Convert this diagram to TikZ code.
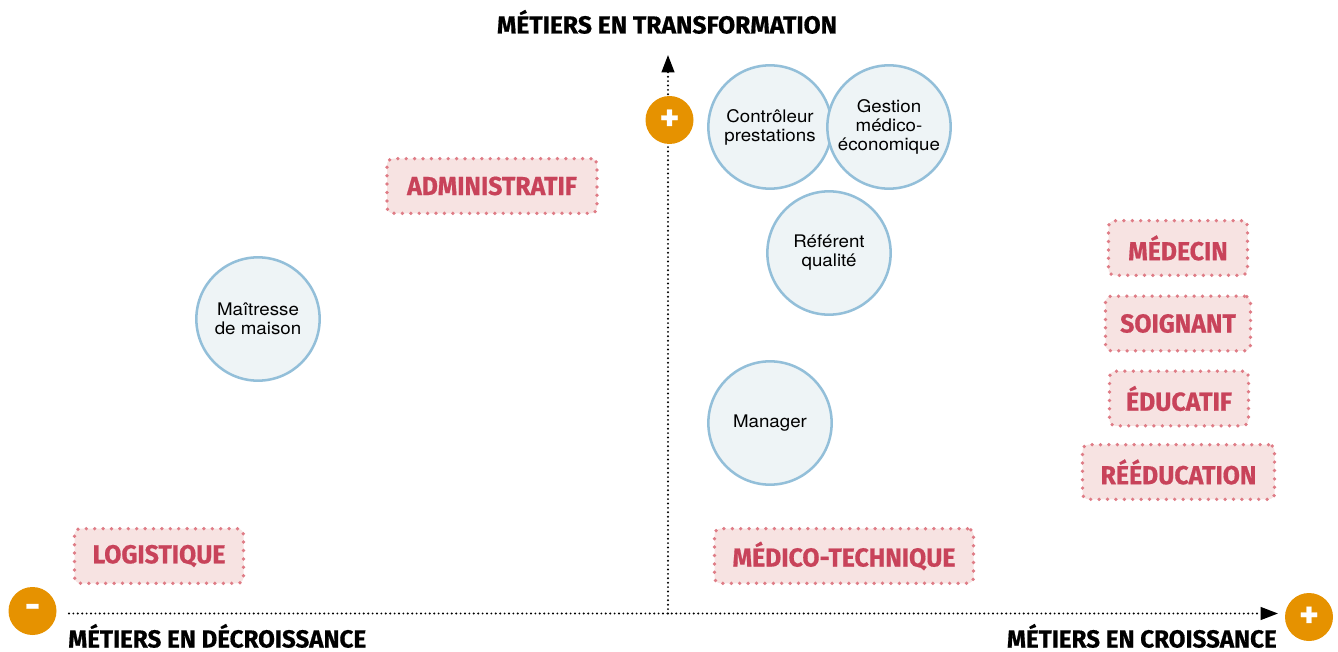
\documentclass[tikz,border=0pt]{standalone}
\usepackage{fontspec}
\usetikzlibrary{arrows.meta}
\newfontfamily\titlefont[FakeBold=0.6]{Fira Sans}
\newfontfamily\pinkfont[FakeBold=0.6,FakeStretch=0.955]{Fira Sans}
\newfontfamily\bottomfont[FakeBold=0.6,FakeStretch=0.98]{Fira Sans}
\newfontfamily\bodyfont[FakeStretch=1.08]{TeX Gyre Heros}
\definecolor{orangec}{HTML}{E69200}
\definecolor{bubblefill}{HTML}{EEF4F6}
\definecolor{bubbleline}{HTML}{93BFD9}
\definecolor{pinkfill}{HTML}{F7E3E2}
\definecolor{pinkdot}{HTML}{DF7C86}
\definecolor{pinktext}{HTML}{C8435A}
\tikzset{
  bubble/.style={circle, draw=bubbleline, fill=bubblefill, line width=1.9pt,
    minimum size=92.5pt, inner sep=0pt, align=center,
    font=\bodyfont\fontsize{13}{14.3}\selectfont},
  pinkbox/.style={rectangle, rounded corners=4.5pt, fill=pinkfill, draw=pinkdot,
    line width=2.8pt, line cap=round, dash pattern=on 0pt off 6.3pt,
    minimum height=41pt, inner sep=0pt, text=pinktext,
    font=\pinkfont\bfseries\fontsize{19.5}{20}\selectfont},
  axisline/.style={line width=1.6pt, line cap=round, dash pattern=on 0pt off 3.3pt,
    -{Triangle[length=13pt,width=9.5pt]}},
  signdot/.style={circle, fill=orangec, minimum size=36pt, inner sep=0pt,
    text=white, font=\titlefont\bfseries\fontsize{28}{28}\selectfont},
  axislabel/.style={font=\titlefont\bfseries\fontsize{18.5}{20}\selectfont, inner sep=0pt},
  bottomlabel/.style={font=\bottomfont\bfseries\fontsize{18.5}{20}\selectfont, inner sep=0pt}
}
\begin{document}
\begin{tikzpicture}[x=0.75pt,y=-0.75pt]
\useasboundingbox (0,0) rectangle (1338,652);
% axes
\coordinate (origin) at (668,613.5);
\coordinate (xstart) at (69,613.5);
\coordinate (xend) at (1278,613.5);
\coordinate (yend) at (668,55);
\draw[axisline] (xstart) -- (xend);
\draw[axisline] (origin) -- (yend);
% sign dots
\node[signdot] (plustop) at (669.5,120) {+};
\node[signdot] (minusleft) at (32.5,611) {-};
\node[signdot] (plusright) at (1309,617) {+};
% axis labels
\node[axislabel, anchor=base] (ttop) at (667,33.5) {MÉTIERS EN TRANSFORMATION};
\node[bottomlabel, anchor=base west] (tleft) at (68,647.5) {MÉTIERS EN DÉCROISSANCE};
\node[bottomlabel, anchor=base east] (tright) at (1277,647.5) {MÉTIERS EN CROISSANCE};
% bubbles
\node[bubble] (controleur) at (770,127) {Contrôleur\\prestations};
\node[bubble] (gestion) at (889,127) {Gestion\\médico-\\économique};
\node[bubble] (referent) at (829,253) {Référent\\qualité};
\node[bubble] (maitresse) at (258,319) {Maîtresse\\de maison};
\node[bubble] (manager) at (770,423) {Manager};
% pink boxes
\node[pinkbox, minimum width=210*0.75pt] (admin) at (492,186) {ADMINISTRATIF};
\node[pinkbox, minimum width=169*0.75pt] (logist) at (159,556) {LOGISTIQUE};
\node[pinkbox, minimum width=259*0.75pt] (medtech) at (844,556) {MÉDICO-TECHNIQUE};
\node[pinkbox, minimum width=139*0.75pt] (medecin) at (1178,248) {MÉDECIN};
\node[pinkbox, minimum width=145*0.75pt] (soignant) at (1178,323.5) {SOIGNANT};
\node[pinkbox, minimum width=139*0.75pt] (educatif) at (1179,398.5) {ÉDUCATIF};
\node[pinkbox, minimum width=192*0.75pt] (reeduc) at (1178.5,472) {RÉÉDUCATION};
\end{tikzpicture}
\end{document}
